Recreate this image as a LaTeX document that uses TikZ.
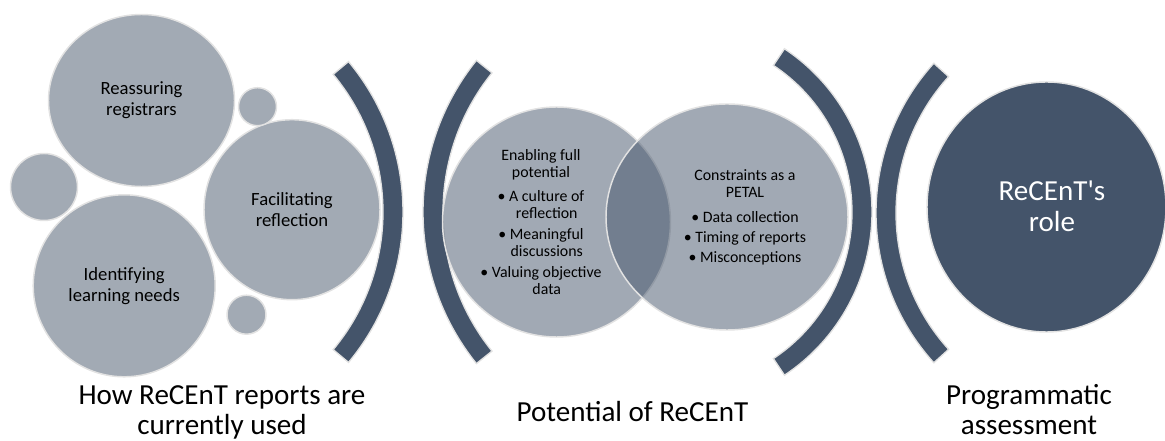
\documentclass[tikz,border=0pt]{standalone}
\usepackage{fontspec}
\setmainfont{Carlito}
\usetikzlibrary{calc,shapes.geometric}
\definecolor{slate}{HTML}{44546A}
\definecolor{slatelight}{HTML}{A2AAB4}
\definecolor{rim}{HTML}{E2E2E2}
\newcommand{\pxu}{0.75pt}
\newcommand{\bracketarc}[4]{%
  \filldraw[bracket] ($(#1)+(#3:#2+10)$) arc[start angle=#3,end angle=#4,radius=#2+10]
    -- ($(#1)+(#4:#2-10)$) arc[start angle=#4,end angle=#3,radius=#2-10] -- cycle;}
\tikzset{
  bubble/.style={ellipse,inner sep=0pt,fill=slatelight,draw=rim,line width=1.1pt,align=center,
    font={\fontsize{14}{15.75}\selectfont}},
  spot/.style={circle,inner sep=0pt,fill=slatelight,draw=rim,line width=1.1pt,minimum size=#1},
  venn/.style={ellipse,inner sep=0pt,fill=slate,fill opacity=0.5,draw=rim,line width=1.1pt},
  venntext/.style={align=center,font={\fontsize{11.9}{12.75}\selectfont}},
  bracket/.style={fill=slate,draw=rim,line width=1pt},
  footlabel/.style={align=center,font={\fontsize{21.8}{22.5}\selectfont}},
}

\begin{document}
\begin{tikzpicture}[x=\pxu,y=-\pxu]
  \useasboundingbox (0,0) rectangle (1165,441);

  \node[bubble,minimum width=186*\pxu,minimum height=172*\pxu] (reassure) at (141.5,100.5) {Reassuring\\registrars};
  \node[bubble,minimum width=176*\pxu,minimum height=180*\pxu] (reflect) at (292,209.7) {Facilitating\\reflection};
  \node[bubble,minimum width=182*\pxu,minimum height=182*\pxu] (needs) at (124.2,285.8) {Identifying\\learning needs};
  \node[spot=38*\pxu] (spotA) at (257.5,106.7) {};
  \node[spot=67*\pxu] (spotB) at (44,187) {};
  \node[spot=39*\pxu] (spotC) at (246.5,314.7) {};

  \bracketarc{168,212}{225}{-39.8}{39.8}
  \bracketarc{665,212}{232}{141.2}{218.8}
  \bracketarc{676,212}{186}{-56.4}{56.4}
  \bracketarc{1099,213}{213}{137.8}{222.2}

  \node[venn,minimum width=228*\pxu,minimum height=230*\pxu] (enable) at (556.5,222) {};
  \node[venn,minimum width=242*\pxu,minimum height=226*\pxu] (limits) at (727,217) {};
  \node[venntext] (enabletext) at (541,222) {Enabling full\\potential\\[5pt]
    \textbullet\ A culture of\\\hphantom{\textbullet\ }reflection\\[3pt]
    \textbullet\ Meaningful\\\hphantom{\textbullet\ }discussions\\[3pt]
    \textbullet\ Valuing objective\\\hphantom{\textbullet\ }data};
  \node[venntext] (limitstext) at (745,217) {Constraints as a\\PETAL\\[6pt]
    \textbullet\ Data collection\\[2.25pt]
    \textbullet\ Timing of reports\\[2.25pt]
    \textbullet\ Misconceptions};

  \node[ellipse,inner sep=0pt,fill=slate,draw=rim,line width=1.1pt,minimum width=239*\pxu,minimum height=250*\pxu] (role) at (1046.5,207) {};
  \node[text=white,align=center,font={\fontsize{21.8}{23.25}\selectfont}] (roletext) at (1052,206) {ReCEnT\textquotesingle s\\role};

  \node[footlabel] (used) at (222,412) {How ReCEnT reports are\\currently used};
  \node[footlabel] (potential) at (632.5,412) {Potential of ReCEnT};
  \node[footlabel] (programme) at (1029,410) {Programmatic\\assessment};
\end{tikzpicture}
\end{document}
